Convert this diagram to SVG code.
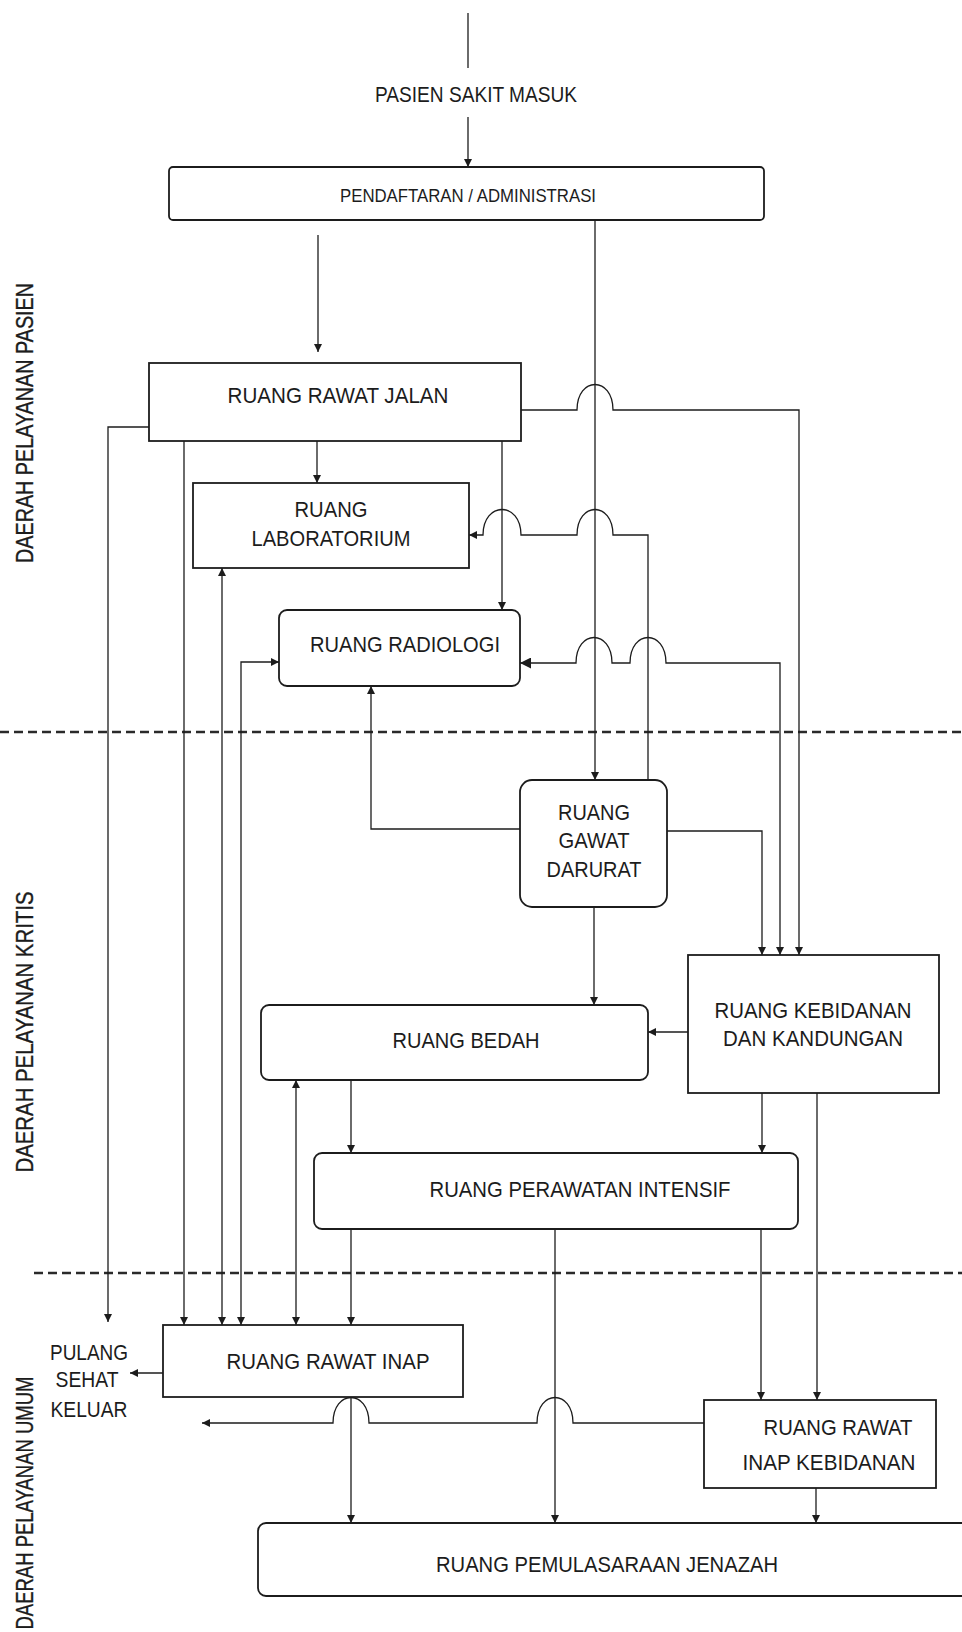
<svg xmlns="http://www.w3.org/2000/svg" width="962" height="1632" viewBox="0 0 962 1632">
<defs>
<marker id="ah" viewBox="0 0 10 10" refX="10" refY="5" markerWidth="9" markerHeight="8" markerUnits="userSpaceOnUse" orient="auto-start-reverse">
<path d="M0,0 L10,5 L0,10 z" fill="#1c1c1c"/>
</marker>
<marker id="ahb" viewBox="0 0 10 10" refX="10" refY="5" markerWidth="13" markerHeight="11" markerUnits="userSpaceOnUse" orient="auto-start-reverse">
<path d="M0,0 L10,5 L0,10 z" fill="#1c1c1c"/>
</marker>
</defs>
<style>
.bx{fill:#fff;stroke:#1c1c1c;stroke-width:1.8}
.t{font-family:"Liberation Sans",Arial,sans-serif;font-size:22.5px;fill:#1c1c1c;text-anchor:middle}
.ts{font-size:17.5px}
.lbl{font-family:"Liberation Sans",Arial,sans-serif;font-size:23px;fill:#1c1c1c;text-anchor:middle;stroke:#1c1c1c;stroke-width:0.35}
.c{fill:none;stroke:#1c1c1c;stroke-width:1.3}
.a{marker-end:url(#ah)}
.b{marker-start:url(#ah);marker-end:url(#ah)}
.d{fill:none;stroke:#2a2a2a;stroke-width:2.6;stroke-dasharray:9 5}
</style>
<rect width="962" height="1632" fill="#fff"/>

<g id="zones">
<path class="d" d="M0,732 H962"/>
<path class="d" d="M34,1273 H962"/>
<text class="lbl" textLength="280" lengthAdjust="spacingAndGlyphs" transform="translate(33,423) rotate(-90)">DAERAH PELAYANAN PASIEN</text>
<text class="lbl" textLength="281" lengthAdjust="spacingAndGlyphs" transform="translate(33,1032) rotate(-90)">DAERAH PELAYANAN KRITIS</text>
<text class="lbl" textLength="253" lengthAdjust="spacingAndGlyphs" transform="translate(33,1503) rotate(-90)">DAERAH PELAYANAN UMUM</text>
</g>

<g id="connectors">
<path class="c" d="M468,13 V68"/>
<path class="c a" d="M468,117 V167"/>
<path class="c a" d="M318,235 V352"/>
<path class="c a" d="M595,220 V780"/>
<path class="c a" d="M149,427 H108 V1322"/>
<path class="c a" d="M184,441 V1325"/>
<path class="c a" d="M317,441 V483"/>
<path class="c a" d="M502,441 V610"/>
<path class="c a" d="M521,410 H577 C577,376 613,376 613,410 H799 V955"/>
<path class="c a" d="M648,780 V535 H613 C613,501 577,501 577,535 H521 C521,501 483,501 483,535 H469"/>
<path class="c b" d="M222,1325 V568"/>
<path class="c b" d="M241,1325 V662 H279"/>
<path class="c a" d="M520,829 H371 V686"/>
<path class="c" style="marker-start:url(#ah);marker-end:url(#ahb)" d="M780,955 V663 H666 C666,629 630,629 630,663 H612 C612,629 576,629 576,663 H520"/>
<path class="c a" d="M667,831 H762 V955"/>
<path class="c a" d="M594,907 V1005"/>
<path class="c a" d="M688,1032 H648"/>
<path class="c a" d="M762,1093 V1153"/>
<path class="c a" d="M817,1093 V1400"/>
<path class="c b" d="M296,1325 V1080"/>
<path class="c a" d="M351,1080 V1153"/>
<path class="c a" d="M351,1229 V1325"/>
<path class="c a" d="M555,1229 V1523"/>
<path class="c a" d="M761,1229 V1400"/>
<path class="c a" d="M163,1373 H130"/>
<path class="c a" d="M351,1397 V1523"/>
<path class="c a" d="M704,1423 H573 C573,1389 537,1389 537,1423 H369 C369,1389 333,1389 333,1423 H202"/>
<path class="c a" d="M816,1488 V1523"/>
</g>

<g id="pasien-masuk">
<text class="t" x="476" y="102" textLength="202" lengthAdjust="spacingAndGlyphs">PASIEN SAKIT MASUK</text>
</g>

<g id="pendaftaran">
<rect class="bx" x="169" y="167" width="595" height="53" rx="4"/>
<text class="t ts" x="468" y="202" textLength="256" lengthAdjust="spacingAndGlyphs">PENDAFTARAN / ADMINISTRASI</text>
</g>

<g id="rawat-jalan">
<rect class="bx" x="149" y="363" width="372" height="78"/>
<text class="t" x="338" y="403" textLength="221" lengthAdjust="spacingAndGlyphs">RUANG RAWAT JALAN</text>
</g>

<g id="laboratorium">
<rect class="bx" x="193" y="483" width="276" height="85"/>
<text class="t" x="331" y="517" textLength="73" lengthAdjust="spacingAndGlyphs">RUANG</text>
<text class="t" x="331" y="546" textLength="159" lengthAdjust="spacingAndGlyphs">LABORATORIUM</text>
</g>

<g id="radiologi">
<rect class="bx" x="279" y="610" width="241" height="76" rx="8"/>
<text class="t" x="405" y="652" textLength="190" lengthAdjust="spacingAndGlyphs">RUANG RADIOLOGI</text>
</g>

<g id="gawat-darurat">
<rect class="bx" x="520" y="780" width="147" height="127" rx="12"/>
<text class="t" x="594" y="820" textLength="72" lengthAdjust="spacingAndGlyphs">RUANG</text>
<text class="t" x="594" y="848" textLength="71" lengthAdjust="spacingAndGlyphs">GAWAT</text>
<text class="t" x="594" y="877" textLength="95" lengthAdjust="spacingAndGlyphs">DARURAT</text>
</g>

<g id="kebidanan">
<rect class="bx" x="688" y="955" width="251" height="138"/>
<text class="t" x="813" y="1018" textLength="197" lengthAdjust="spacingAndGlyphs">RUANG KEBIDANAN</text>
<text class="t" x="813" y="1046" textLength="180" lengthAdjust="spacingAndGlyphs">DAN KANDUNGAN</text>
</g>

<g id="bedah">
<rect class="bx" x="261" y="1005" width="387" height="75" rx="8"/>
<text class="t" x="466" y="1048" textLength="147" lengthAdjust="spacingAndGlyphs">RUANG BEDAH</text>
</g>

<g id="perawatan-intensif">
<rect class="bx" x="314" y="1153" width="484" height="76" rx="8"/>
<text class="t" x="580" y="1197" textLength="301" lengthAdjust="spacingAndGlyphs">RUANG PERAWATAN INTENSIF</text>
</g>

<g id="rawat-inap">
<rect class="bx" x="163" y="1325" width="300" height="72"/>
<text class="t" x="328" y="1369" textLength="203" lengthAdjust="spacingAndGlyphs">RUANG RAWAT INAP</text>
</g>

<g id="pulang">
<text class="t" x="89" y="1360" textLength="78" lengthAdjust="spacingAndGlyphs">PULANG</text>
<text class="t" x="87" y="1387" textLength="63" lengthAdjust="spacingAndGlyphs">SEHAT</text>
<text class="t" x="89" y="1417" textLength="77" lengthAdjust="spacingAndGlyphs">KELUAR</text>
</g>

<g id="rawat-inap-kebidanan">
<rect class="bx" x="704" y="1400" width="232" height="88"/>
<text class="t" x="838" y="1435" textLength="149" lengthAdjust="spacingAndGlyphs">RUANG RAWAT</text>
<text class="t" x="829" y="1470" textLength="173" lengthAdjust="spacingAndGlyphs">INAP KEBIDANAN</text>
</g>

<g id="jenazah">
<rect class="bx" x="258" y="1523" width="720" height="73" rx="8"/>
<text class="t" x="607" y="1572" textLength="342" lengthAdjust="spacingAndGlyphs">RUANG PEMULASARAAN JENAZAH</text>
</g>
</svg>
